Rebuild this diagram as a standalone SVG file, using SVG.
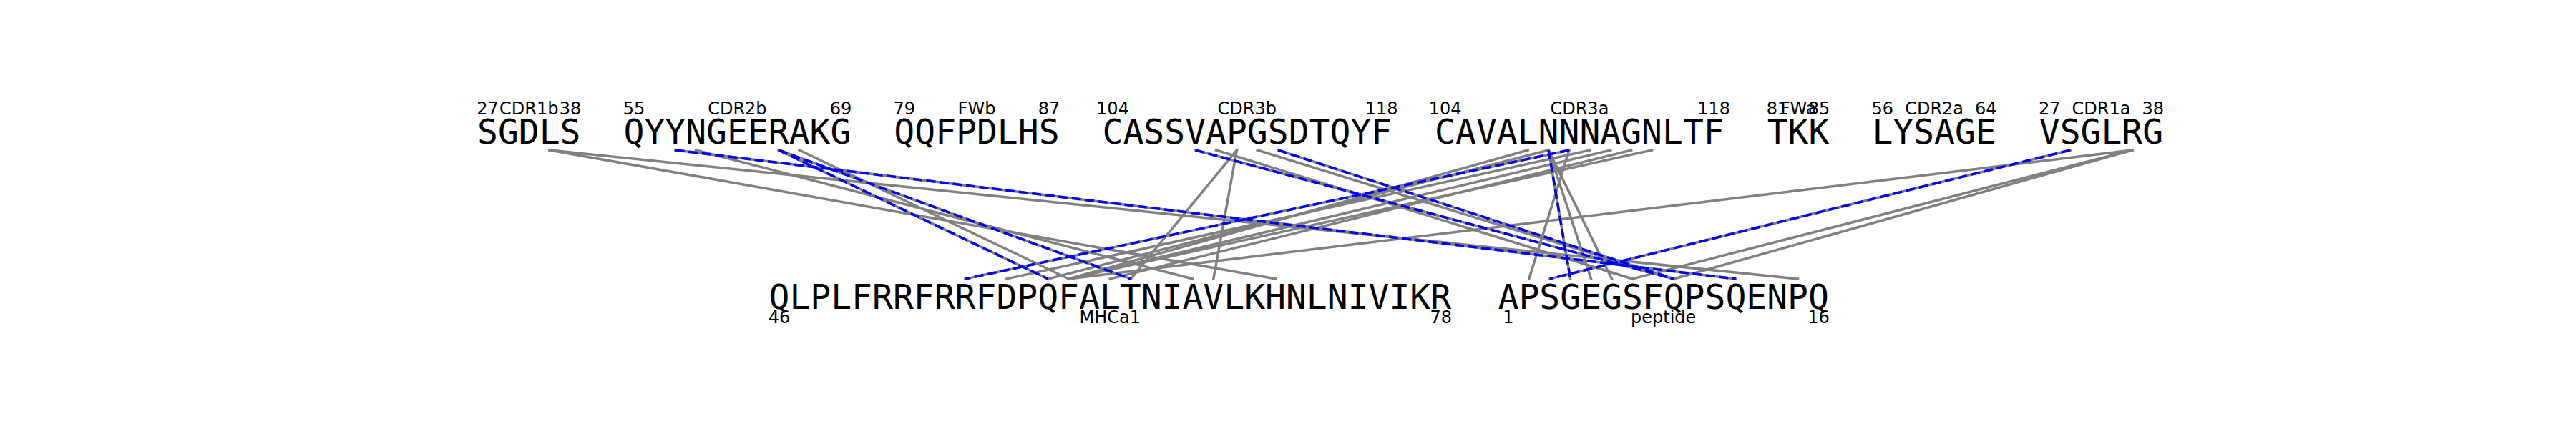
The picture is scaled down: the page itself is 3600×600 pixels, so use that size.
<svg xmlns="http://www.w3.org/2000/svg" width="3600" height="600" viewBox="0 0 3600 600">
<style>
.seq{font-family:"DejaVu Sans Mono","Liberation Mono",monospace;font-size:48px;fill:#000}
.lab{font-family:"DejaVu Sans","Liberation Sans",sans-serif;font-size:24px;fill:#000;text-anchor:middle}
.g{stroke:#808080;stroke-width:3.5;fill:none;stroke-linecap:square}
.b{stroke:#0000ff;stroke-width:3.5;fill:none;stroke-dasharray:13 5.6}
</style>
<rect width="3600" height="600" fill="#fff"/>
<g id="connectors">
<g id="contacts">
<line class="g" x1="768.1" y1="210" x2="2512.5" y2="390"/>
<line class="g" x1="768.1" y1="210" x2="1782.5" y2="390"/>
<line class="g" x1="943.7" y1="210" x2="2425.8" y2="390"/>
<line class="g" x1="972.6" y1="210" x2="1666.9" y2="390"/>
<line class="g" x1="1088.2" y1="210" x2="1464.6" y2="390"/>
<line class="g" x1="1088.2" y1="210" x2="1580.2" y2="390"/>
<line class="g" x1="1117.1" y1="210" x2="1493.5" y2="390"/>
<line class="g" x1="1670.6" y1="210" x2="2339.1" y2="390"/>
<line class="g" x1="1699.5" y1="210" x2="2281.3" y2="390"/>
<line class="g" x1="1728.4" y1="210" x2="1580.2" y2="390"/>
<line class="g" x1="1728.4" y1="210" x2="1695.8" y2="390"/>
<line class="g" x1="1757.3" y1="210" x2="2339.1" y2="390"/>
<line class="g" x1="1786.2" y1="210" x2="2339.1" y2="390"/>
<line class="g" x1="2135.2" y1="210" x2="1493.5" y2="390"/>
<line class="g" x1="2164.1" y1="210" x2="2194.6" y2="390"/>
<line class="g" x1="2164.1" y1="210" x2="2223.5" y2="390"/>
<line class="g" x1="2164.1" y1="210" x2="2252.4" y2="390"/>
<line class="g" x1="2164.1" y1="210" x2="1464.6" y2="390"/>
<line class="g" x1="2193.0" y1="210" x2="1349.0" y2="390"/>
<line class="g" x1="2193.0" y1="210" x2="2136.8" y2="390"/>
<line class="g" x1="2221.9" y1="210" x2="1406.8" y2="390"/>
<line class="g" x1="2250.8" y1="210" x2="1493.5" y2="390"/>
<line class="g" x1="2279.7" y1="210" x2="1551.3" y2="390"/>
<line class="g" x1="2308.6" y1="210" x2="1493.5" y2="390"/>
<line class="g" x1="2893.1" y1="210" x2="2165.7" y2="390"/>
<line class="g" x1="2979.8" y1="210" x2="1493.5" y2="390"/>
<line class="g" x1="2979.8" y1="210" x2="2281.3" y2="390"/>
<line class="g" x1="2979.8" y1="210" x2="2339.1" y2="390"/>
</g>
<g id="highlighted">
<line class="b" x1="943.7" y1="210" x2="2425.8" y2="390"/>
<line class="b" x1="1088.2" y1="210" x2="1464.6" y2="390"/>
<line class="b" x1="1088.2" y1="210" x2="1580.2" y2="390"/>
<line class="b" x1="1670.6" y1="210" x2="2339.1" y2="390"/>
<line class="b" x1="1786.2" y1="210" x2="2339.1" y2="390"/>
<line class="b" x1="2164.1" y1="210" x2="2194.6" y2="390"/>
<line class="b" x1="2193.0" y1="210" x2="1349.0" y2="390"/>
<line class="b" x1="2893.1" y1="210" x2="2165.7" y2="390"/>
</g>
</g>
<g id="CDR1b">
<text class="lab" x="681.4" y="160">27</text>
<text class="lab" x="739.2" y="160">CDR1b</text>
<text class="lab" x="797.0" y="160">38</text>
<text class="seq" x="667" y="201">SGDLS</text>
</g>
<g id="CDR2b">
<text class="lab" x="885.9" y="160">55</text>
<text class="lab" x="1030.4" y="160">CDR2b</text>
<text class="lab" x="1174.9" y="160">69</text>
<text class="seq" x="871.49" y="201">QYYNGEERAKG</text>
</g>
<g id="FWb">
<text class="lab" x="1263.8" y="160">79</text>
<text class="lab" x="1365.0" y="160">FWb</text>
<text class="lab" x="1466.1" y="160">87</text>
<text class="seq" x="1249.37" y="201">QQFPDLHS</text>
</g>
<g id="CDR3b">
<text class="lab" x="1555.0" y="160">104</text>
<text class="lab" x="1742.8" y="160">CDR3b</text>
<text class="lab" x="1930.7" y="160">118</text>
<text class="seq" x="1540.55" y="201">CASSVAPGSDTQYF</text>
</g>
<g id="CDR3a">
<text class="lab" x="2019.6" y="160">104</text>
<text class="lab" x="2207.4" y="160">CDR3a</text>
<text class="lab" x="2395.2" y="160">118</text>
<text class="seq" x="2005.12" y="201">CAVALNNNAGNLTF</text>
</g>
<g id="FWa">
<text class="lab" x="2484.1" y="160">81</text>
<text class="lab" x="2513.0" y="160">FWa</text>
<text class="lab" x="2541.9" y="160">85</text>
<text class="seq" x="2469.69" y="201">TKK</text>
</g>
<g id="CDR2a">
<text class="lab" x="2630.8" y="160">56</text>
<text class="lab" x="2703.1" y="160">CDR2a</text>
<text class="lab" x="2775.3" y="160">64</text>
<text class="seq" x="2616.38" y="201">LYSAGE</text>
</g>
<g id="CDR1a">
<text class="lab" x="2864.2" y="160">27</text>
<text class="lab" x="2936.5" y="160">CDR1a</text>
<text class="lab" x="3008.7" y="160">38</text>
<text class="seq" x="2849.77" y="201">VSGLRG</text>
</g>
<g id="MHCa1">
<text class="seq" x="1074.5" y="432">QLPLFRRFRRFDPQFALTNIAVLKHNLNIVIKR</text>
<text class="lab" x="1088.9" y="452">46</text>
<text class="lab" x="1551.3" y="452">MHCa1</text>
<text class="lab" x="2013.7" y="452">78</text>
</g>
<g id="peptide">
<text class="seq" x="2093.5" y="432">APSGEGSFQPSQENPQ</text>
<text class="lab" x="2107.9" y="452">1</text>
<text class="lab" x="2324.7" y="452">peptide</text>
<text class="lab" x="2541.5" y="452">16</text>
</g>
</svg>
